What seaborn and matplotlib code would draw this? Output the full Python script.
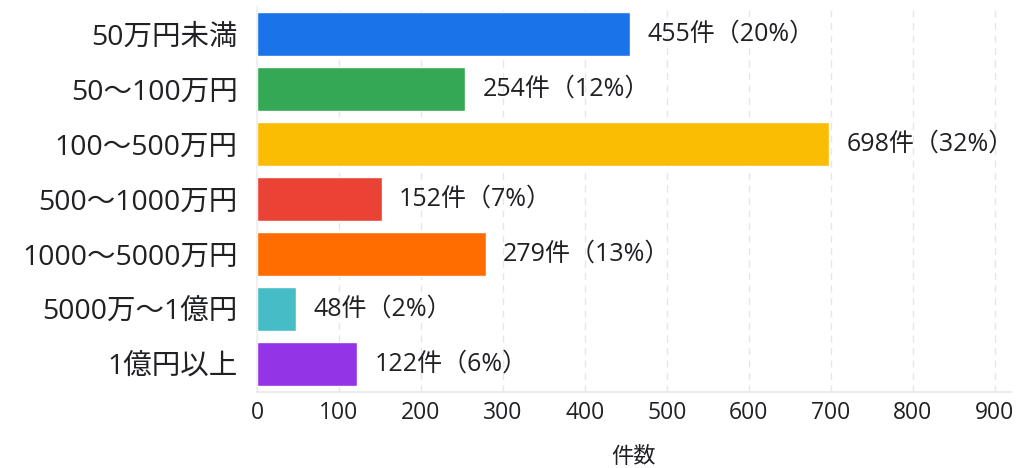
import pandas as pd
import matplotlib.pyplot as plt
import seaborn as sns

# === Data ===
categories = ["50万円未満", "50〜100万円", "100〜500万円", "500〜1000万円",
              "1000〜5000万円", "5000万〜1億円", "1億円以上"]
counts = [455, 254, 698, 152, 279, 48, 122]
percents = [20, 12, 32, 7, 13, 2, 6]
colors = ["#1a73e8", "#34a853", "#fbbc04", "#ea4335", "#ff6d01", "#46bdc6", "#9334e6"]
x_ticks = [0, 100, 200, 300, 400, 500, 600, 700, 800, 900]

df = pd.DataFrame({"category": categories, "count": counts})

sns.set_theme(style="white")
# Latin digits from Open Sans, Japanese glyphs fall back to Noto CJK
plt.rcParams["font.family"] = ["Open Sans", "Noto Sans CJK JP", "DejaVu Sans"]
text_color = "#202124"

fig = plt.figure(figsize=(10.18, 4.68), dpi=100)
ax = fig.add_axes([257 / 1018, 1 - 391.5 / 468, (1011 - 257) / 1018, (391.5 - 6.5) / 468])

sns.barplot(data=df, x="count", y="category", hue="category", palette=colors,
            legend=False, width=0.8, ax=ax, saturation=1)

for i, (c, p) in enumerate(zip(counts, percents)):
    ax.text(c + 21, i, f"{c}件（{p}%）", va="center", ha="left",
            fontsize=18, color=text_color)

ax.set_xlim(0, 920)
ax.set_xticks(x_ticks)
ax.set_xticklabels([str(t) for t in x_ticks], fontsize=16.5, color=text_color)
ax.tick_params(axis="y", labelsize=20.5, colors=text_color, length=0, pad=14)
ax.tick_params(axis="x", length=0, pad=7)
ax.set_ylabel("")
ax.set_xlabel("件数", fontsize=16, color=text_color, labelpad=16)

ax.xaxis.grid(True, linestyle=(0, (5, 4)), color="#e6e6e6", linewidth=1)
ax.set_axisbelow(True)
for s in ["top", "right"]:
    ax.spines[s].set_visible(False)
ax.spines["left"].set_color("#f0f0f0")
ax.spines["bottom"].set_color("#e8e8e8")

plt.savefig("out.png", dpi=100)
plt.close()
